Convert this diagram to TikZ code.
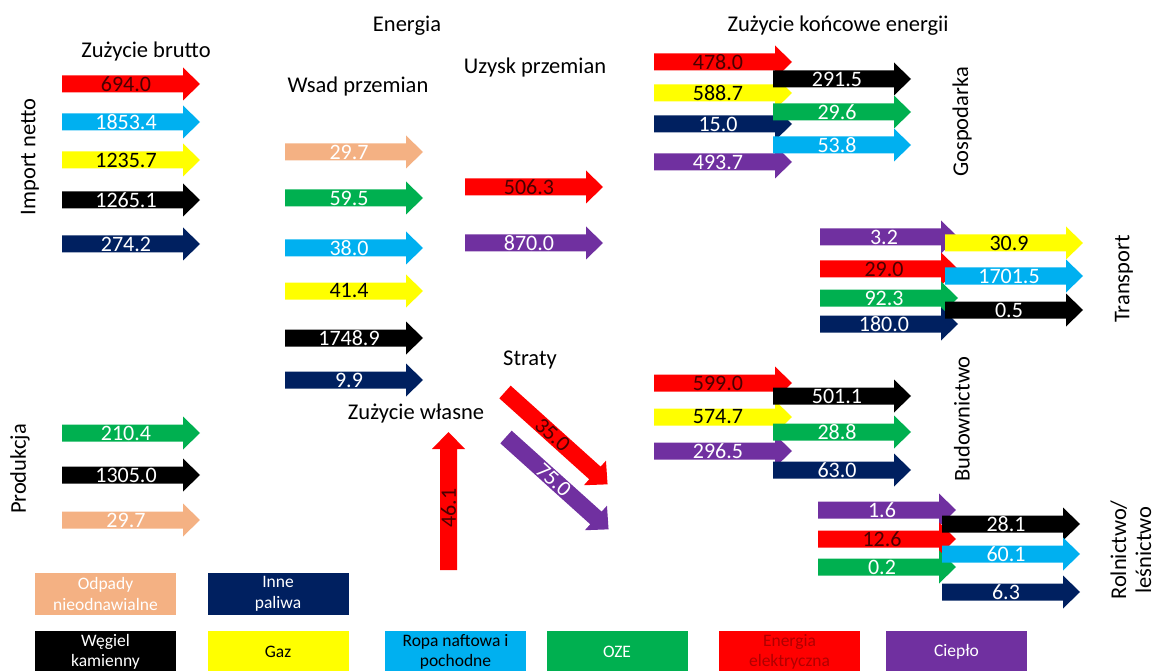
\documentclass[tikz,border=0pt]{standalone}
\usepackage{fontspec}
\setmainfont{Carlito}
\definecolor{odpady}{HTML}{F4B183}
\definecolor{inne}{HTML}{002060}
\definecolor{wegiel}{HTML}{000000}
\definecolor{gaz}{HTML}{FFFF00}
\definecolor{ropa}{HTML}{00B0F0}
\definecolor{oze}{HTML}{00B050}
\definecolor{ee}{HTML}{FF0000}
\definecolor{cieplo}{HTML}{7030A0}
\definecolor{eenum}{HTML}{4A0000}
\definecolor{eekey}{HTML}{B00000}
\tikzset{
 val/.style={font=\fontsize{22}{24}\selectfont,inner sep=0pt},
 title/.style={font=\fontsize{22.5}{26}\selectfont,inner sep=0pt},
 key/.style={minimum width=141,minimum height=42,inner sep=0pt,align=center,font=\fontsize{17.5}{20.5}\selectfont},
}
% flow arrow: name, tail x, y, fill, text colour, value
\newcommand\flow[6]{%
 \fill[#4] (#2,#3-8.5) -- (#2+121,#3-8.5) -- (#2+121,#3-16.5) -- (#2+138,#3) -- (#2+121,#3+16.5) -- (#2+121,#3+8.5) -- (#2,#3+8.5) -- cycle;
 \node[val,text=#5] (#1) at (#2+64,#3) {#6};}
\begin{document}
\begin{tikzpicture}[x=1pt,y=-1pt]
 \useasboundingbox (0,0) rectangle (1157,671);
 \clip (0,0) rectangle (1157,671);
 \node[title] (energia) at (407,26) {Energia};
 \node[title] (brutto) at (146,52) {Zużycie brutto};
 \node[title] (wsad) at (358,87) {Wsad przemian};
 \node[title] (uzysk) at (535,68) {Uzysk przemian};
 \node[title] (koncowe) at (838,26) {Zużycie końcowe energii};
 \node[title] (straty) at (530,360) {Straty};
 \node[title] (wlasne) at (416,413) {Zużycie własne};
 \node[title,rotate=90] (import) at (30,157) {Import netto};
 \node[title,rotate=90] (produkcja) at (20,469) {Produkcja};
 \node[title,rotate=90] (gospodarka) at (962,122) {Gospodarka};
 \node[title,rotate=90] (transport) at (1124,279) {Transport};
 \node[title,rotate=90] (budownictwo) at (962,419) {Budownictwo};
 \node[title,rotate=90,align=center,font=\fontsize{22.5}{25}\selectfont] (rolnictwo) at (1131,550) {Rolnictwo/\\leśnictwo};

 \flow{imp-ee}{62}{84}{ee}{eenum}{694.0}
 \flow{imp-ropa}{62}{122}{ropa}{white}{1853.4}
 \flow{imp-gaz}{62}{160}{gaz}{black}{1235.7}
 \flow{imp-wegiel}{62}{200}{wegiel}{white}{1265.1}
 \flow{imp-inne}{62}{244}{inne}{white}{274.2}

 \flow{prod-oze}{62}{433}{oze}{white}{210.4}
 \flow{prod-wegiel}{62}{475}{wegiel}{white}{1305.0}
 \flow{prod-odpady}{62}{520}{odpady}{white}{29.7}

 \flow{wsad-odpady}{285}{152}{odpady}{white}{29.7}
 \flow{wsad-oze}{285}{198}{oze}{white}{59.5}
 \flow{wsad-ropa}{285}{248}{ropa}{white}{38.0}
 \flow{wsad-gaz}{285}{291}{gaz}{black}{41.4}
 \flow{wsad-wegiel}{285}{338}{wegiel}{white}{1748.9}
 \flow{wsad-inne}{285}{380}{inne}{white}{9.9}

 \flow{uzysk-ee}{465}{187}{ee}{eenum}{506.3}
 \flow{uzysk-cieplo}{465}{243}{cieplo}{white}{870.0}

 \flow{gosp-ee}{654}{62}{ee}{eenum}{478.0}
 \flow{gosp-gaz}{654}{93}{gaz}{black}{588.7}
 \flow{gosp-inne}{654}{124}{inne}{white}{15.0}
 \flow{gosp-cieplo}{654}{162}{cieplo}{white}{493.7}
 \flow{gosp-wegiel}{773}{79}{wegiel}{white}{291.5}
 \flow{gosp-oze}{773}{112}{oze}{white}{29.6}
 \flow{gosp-ropa}{773}{145}{ropa}{white}{53.8}

 \flow{trans-cieplo}{820}{237}{cieplo}{white}{3.2}
 \flow{trans-ee}{820}{269}{ee}{eenum}{29.0}
 \flow{trans-oze}{820}{298}{oze}{white}{92.3}
 \flow{trans-inne}{820}{324}{inne}{white}{180.0}
 \flow{trans-gaz}{945}{243}{gaz}{black}{30.9}
 \flow{trans-ropa}{945}{276}{ropa}{white}{1701.5}
 \flow{trans-wegiel}{945}{310}{wegiel}{white}{0.5}

 \flow{bud-ee}{654}{383}{ee}{eenum}{599.0}
 \flow{bud-gaz}{654}{417}{gaz}{black}{574.7}
 \flow{bud-cieplo}{654}{451}{cieplo}{white}{296.5}
 \flow{bud-wegiel}{773}{396}{wegiel}{white}{501.1}
 \flow{bud-oze}{773}{432}{oze}{white}{28.8}
 \flow{bud-inne}{773}{470}{inne}{white}{63.0}

 \flow{rol-cieplo}{818}{510}{cieplo}{white}{1.6}
 \flow{rol-ee}{818}{539}{ee}{eenum}{12.6}
 \flow{rol-oze}{818}{567}{oze}{white}{0.2}
 \flow{rol-wegiel}{942}{524}{wegiel}{white}{28.1}
 \flow{rol-ropa}{942}{554}{ropa}{white}{60.1}
 \flow{rol-inne}{942}{592}{inne}{white}{6.3}

 \fill[ee] (440,570) -- (440,449) -- (432,449) -- (448.5,432) -- (465,449) -- (457,449) -- (457,570) -- cycle;
 \node[val,text=eenum,rotate=90] (wlasne-ee) at (448.5,508) {46.1};
 \begin{scope}[shift={(505,392)},rotate=-42,transform shape]
  \flow{straty-ee}{0}{0}{ee}{eenum}{35.0}
 \end{scope}
 \begin{scope}[shift={(506,437)},rotate=-42,transform shape]
  \flow{straty-cieplo}{0}{0}{cieplo}{white}{75.0}
 \end{scope}

 \node[key,fill=odpady,text=white] (k-odpady) at (105.5,594) {Odpady\\nieodnawialne};
 \node[key,fill=inne,text=white] (k-inne) at (278,594) {Inne\\paliwa};
 \node[key,fill=wegiel,text=white] (k-wegiel) at (105.5,652) {Węgiel\\kamienny};
 \node[key,fill=gaz] (k-gaz) at (278,652) {Gaz};
 \node[key,fill=ropa] (k-ropa) at (455.5,652) {Ropa naftowa i\\pochodne};
 \node[key,fill=oze,text=white] (k-oze) at (617,652) {OZE};
 \node[key,fill=ee,text=eekey] (k-ee) at (789.5,652) {Energia\\elektryczna};
 \node[key,fill=cieplo,text=white] (k-cieplo) at (956.5,652) {Ciepło};
\end{tikzpicture}
\end{document}
